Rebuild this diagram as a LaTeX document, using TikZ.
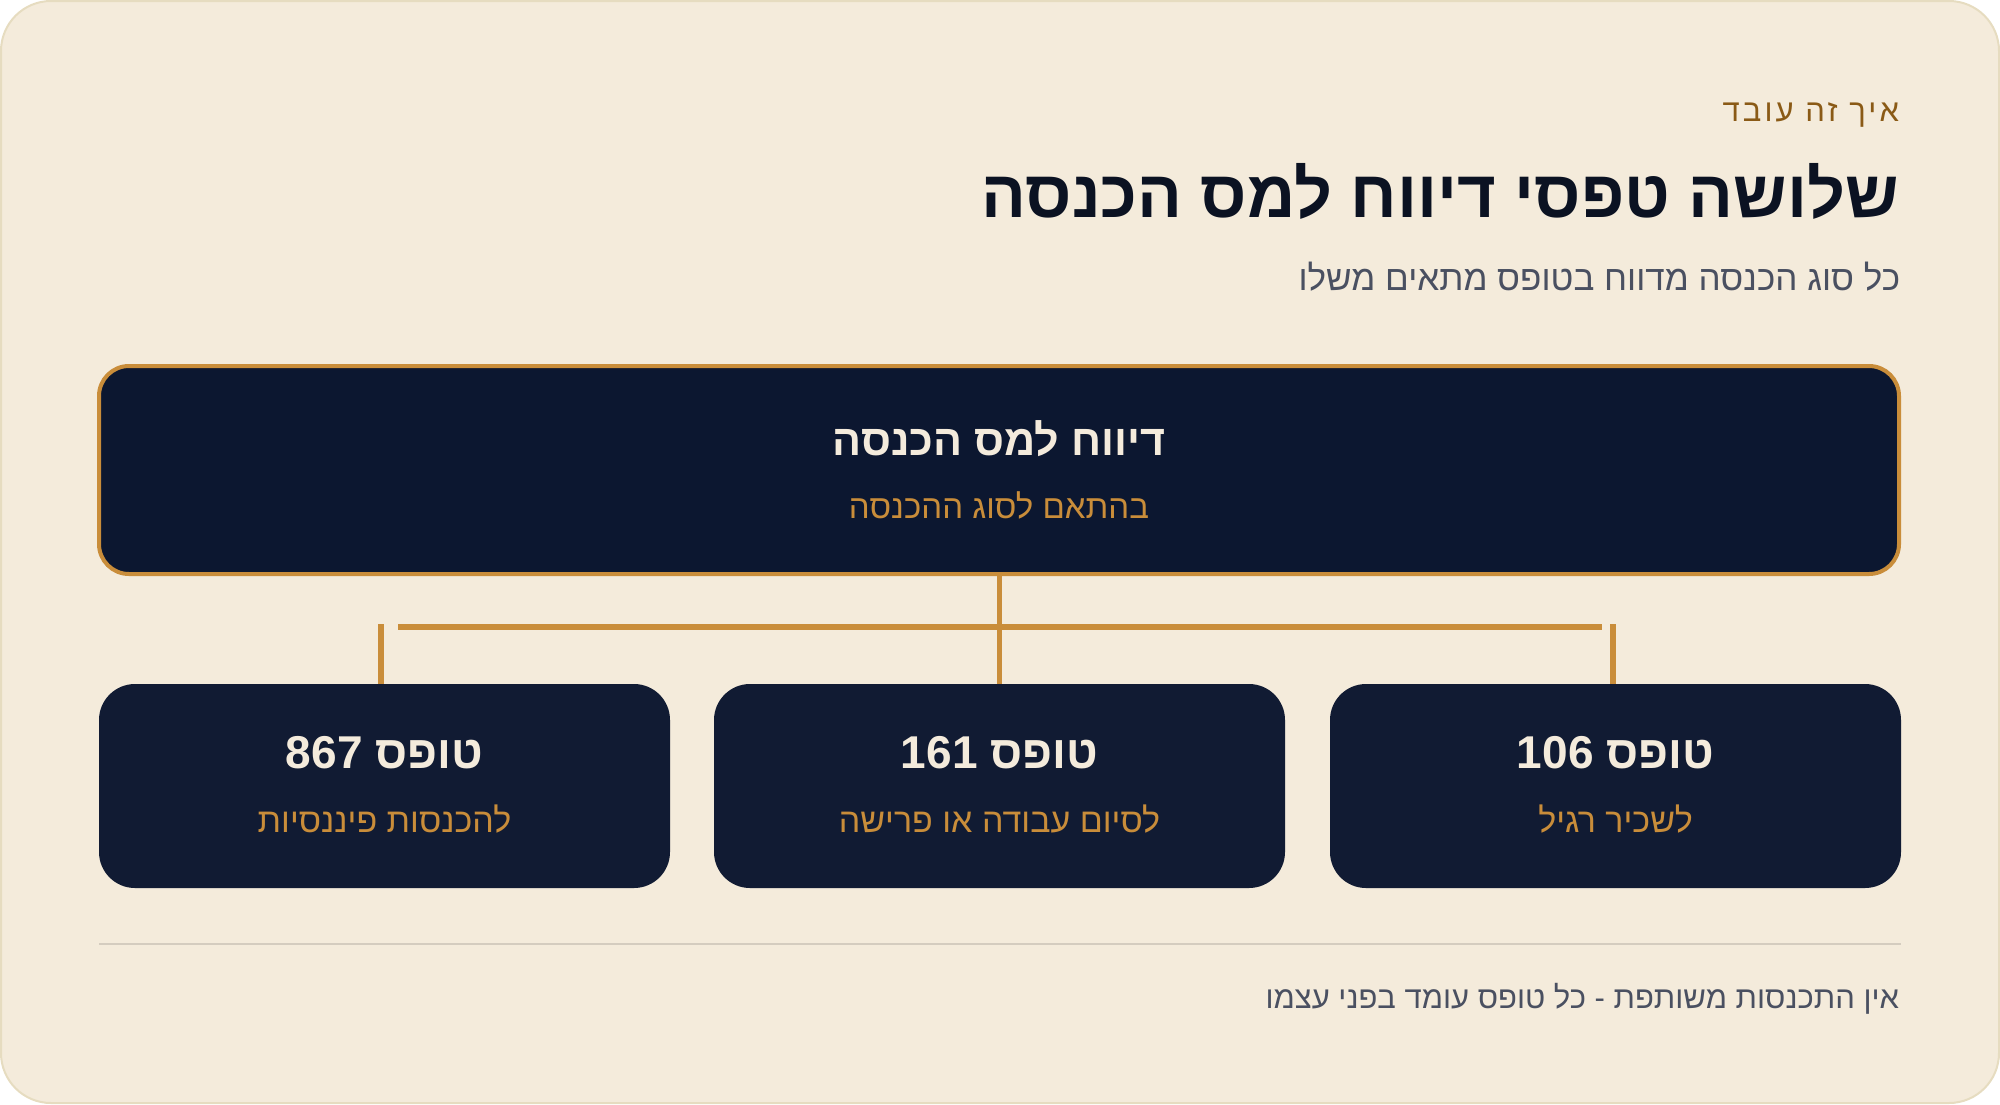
\documentclass[tikz,border=0pt]{standalone}
\usepackage{fontspec}
\TeXXeTstate=1
\newfontfamily\heb[Script=Hebrew]{Liberation Sans}
\newfontfamily\hebsp[Script=Hebrew,LetterSpace=10]{Liberation Sans}
\definecolor{bg}{HTML}{F4EBDB}
\definecolor{cardline}{HTML}{E6DCC0}
\definecolor{navy}{HTML}{0C1730}
\definecolor{navytwo}{HTML}{111B33}
\definecolor{gold}{HTML}{C98D3A}
\definecolor{cream}{HTML}{F4EBDC}
\definecolor{brownhdr}{HTML}{8A5A16}
\definecolor{titlecol}{HTML}{0B1222}
\definecolor{graytxt}{HTML}{4A5061}
\definecolor{sepcol}{HTML}{D4CCBF}
\tikzset{
  card/.style={draw=cardline, line width=2pt, fill=bg, rounded corners=50pt},
  mainbox/.style={draw=gold, line width=4pt, fill=navy, rounded corners=30pt,
    minimum width=1800pt, minimum height=208pt, inner sep=0pt},
  subbox/.style={fill=navytwo, rounded corners=36pt, minimum width=571pt,
    minimum height=204pt, inner sep=0pt},
  link/.style={draw=gold, line width=5.5pt},
  txt/.style={inner sep=0pt, outer sep=0pt},
  boxtitle/.style={txt, anchor=base, text=cream, font=\heb\bfseries\fontsize{46}{54}\selectfont},
  boxsub/.style={txt, anchor=base, text=gold, font=\heb\fontsize{34}{40}\selectfont},
}
\begin{document}
\begin{tikzpicture}[x=1pt,y=-1pt]
\useasboundingbox (0,0) rectangle (2000,1104);
\path[card] (1,1) rectangle (1999,1103);

% header
\node[txt, anchor=base east, text=brownhdr, font=\hebsp\fontsize{31}{36}\selectfont] (kicker) at (1899,121) {\beginR איך זה עובד\endR};
\node[txt, anchor=base east, text=titlecol, font=\heb\bfseries\fontsize{66.5}{78}\selectfont] (title) at (1899,217) {\beginR שלושה טפסי דיווח למס הכנסה\endR};
\node[txt, anchor=base east, text=graytxt, font=\heb\fontsize{35}{41}\selectfont] (subtitle) at (1900,290) {\beginR כל סוג הכנסה מדווח בטופס מתאים משלו\endR};

% main box
\node[mainbox] (main) at (999,470) {};
\node[txt, anchor=base, text=cream, font=\heb\bfseries\fontsize{43}{50}\selectfont] (maint) at (999,455) {\beginR דיווח למס הכנסה\endR};
\node[txt, anchor=base, text=gold, font=\heb\fontsize{33}{39}\selectfont] (mains) at (999,518) {\beginR בהתאם לסוג ההכנסה\endR};

% bottom boxes
\node[subbox] (b1) at (384.5,786) {};
\node[subbox] (b2) at (999.5,786) {};
\node[subbox] (b3) at (1615.5,786) {};

\node[boxtitle] (b1t) at (384.5,768) {\beginR טופס \beginL867\endL\endR};
\node[boxsub] (b1s) at (384.5,832) {\beginR להכנסות פיננסיות\endR};
\node[boxtitle] (b2t) at (999.5,768) {\beginR טופס \beginL161\endL\endR};
\node[boxsub] (b2s) at (999.5,832) {\beginR לסיום עבודה או פרישה\endR};
\node[boxtitle] (b3t) at (1615.5,768) {\beginR טופס \beginL106\endL\endR};
\node[boxsub] (b3s) at (1615.5,832) {\beginR לשכיר רגיל\endR};

% connectors
\coordinate (hl) at (398,627);
\coordinate (hr) at (1602,627);
\coordinate (vl) at (381,624);
\coordinate (vr) at (1613,624);
\draw[link] (main.south -| b2.north) -- (b2.north);
\draw[link] (hl) -- (hr);
\draw[link] (vl) -- (vl |- b1.north);
\draw[link] (vr) -- (vr |- b3.north);

% separator and footer
\coordinate (sepl) at (99,944);
\coordinate (sepr) at (1901,944);
\draw[draw=sepcol, line width=2pt] (sepl) -- (sepr);
\node[txt, anchor=base east, text=graytxt, font=\heb\fontsize{31}{37}\selectfont] (footer) at (1899,1008) {\beginR אין התכנסות משותפת - כל טופס עומד בפני עצמו\endR};
\end{tikzpicture}
\end{document}
